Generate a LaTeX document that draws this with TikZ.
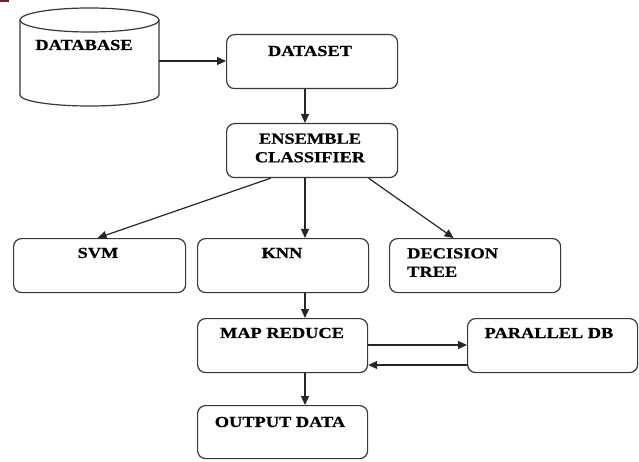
\documentclass[tikz,border=0pt]{standalone}
\usepackage{fontspec}
\setmainfont[FakeStretch=1.2,BoldFeatures={FakeBold=0.6}]{Liberation Serif}
\usetikzlibrary{arrows.meta,calc}
\definecolor{edge}{RGB}{55,55,55}
\definecolor{cornerred}{RGB}{120,32,32}
\begin{document}
\begin{tikzpicture}[x=1pt,y=-1pt,
  box/.style={draw=edge,line width=1.2pt,rounded corners=8pt,anchor=north west,inner sep=0pt},
  lbl/.style={font=\bfseries\fontsize{15.3}{18.5}\selectfont,inner sep=0pt,align=left},
  arr/.style={draw=black!85,line width=1.2pt,-{Triangle[length=9pt,width=8pt]}}]
\useasboundingbox (0,0) rectangle (639,462);
\fill[fill=cornerred] (0,0) rectangle (9,1.7);

% database cylinder
\draw[draw=edge,line width=1.2pt] (20,20) -- (20,95) arc[start angle=180,end angle=0,x radius=69.5,y radius=11] -- (159,20);
\draw[draw=edge,line width=1.2pt] (89.5,20) ellipse[x radius=69.5,y radius=12];
\node[lbl] (dbtext) at (84,45) {DATABASE};
\coordinate (dbout) at (159,61);

% boxes
\node[box,minimum width=171pt,minimum height=54pt] (dataset) at (226,34) {};
\node[box,minimum width=171pt,minimum height=54pt] (ens) at (226,123) {};
\node[box,minimum width=172pt,minimum height=54pt] (svm) at (13,238) {};
\node[box,minimum width=171pt,minimum height=54pt] (knn) at (197,238) {};
\node[box,minimum width=171pt,minimum height=54pt] (dt) at (389,238) {};
\node[box,minimum width=170pt,minimum height=54pt] (mr) at (197,318) {};
\node[box,minimum width=170pt,minimum height=54pt] (pdb) at (467,318) {};
\node[box,minimum width=170pt,minimum height=53pt] (out) at (197,405) {};

% labels
\node[lbl] (tdataset) at (310,51) {DATASET};
\node[lbl,align=center] (tens) at (310,148) {ENSEMBLE\\CLASSIFIER};
\node[lbl] (tsvm) at (98,253) {SVM};
\node[lbl] (tknn) at (282,253) {KNN};
\node[lbl,anchor=west] (tdt) at (407,262.5) {DECISION\\TREE};
\node[lbl] (tmr) at (282,333) {MAP REDUCE};
\node[lbl] (tpdb) at (549,333) {PARALLEL DB};
\node[lbl] (tout) at (280,422) {OUTPUT DATA};

% guide column for the vertical connectors, and rows for the two-way link
\coordinate (col) at (305,0);
\coordinate (rowa) at (0,345);
\coordinate (rowb) at (0,365);

% connectors
\draw[arr] (dbout) -- (dbout -| dataset.west);
\draw[arr] (dataset.south -| col) -- (ens.north -| col);
\draw[arr] ([xshift=-41.5pt]ens.south) -- ([xshift=-2pt]svm.north);
\draw[arr] (ens.south -| col) -- (knn.north -| col);
\draw[arr] ([xshift=56.5pt]ens.south) -- ([xshift=-21.5pt]dt.north);
\draw[arr] (knn.south -| col) -- (mr.north -| col);
\draw[arr] (mr.south -| col) -- (out.north -| col);
\draw[arr] (mr.east |- rowa) -- (pdb.west |- rowa);
\draw[arr] (pdb.west |- rowb) -- (mr.east |- rowb);
\end{tikzpicture}
\end{document}
